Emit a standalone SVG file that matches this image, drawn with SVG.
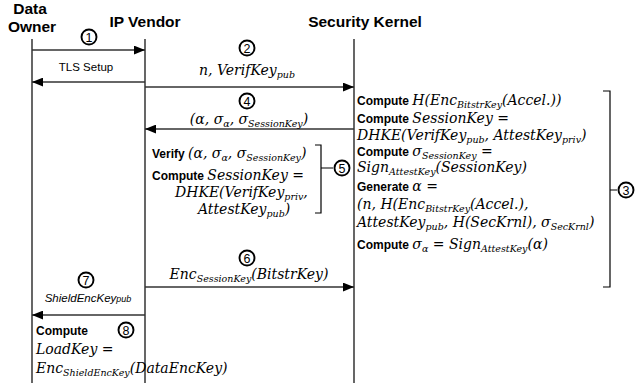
<svg xmlns="http://www.w3.org/2000/svg" width="639" height="383" viewBox="0 0 639 383">
<style>
.hdr{font-family:"Liberation Sans",Arial,sans-serif;font-weight:bold;font-size:15.5px;fill:#000}
.b{font-family:"Liberation Sans",Arial,sans-serif;font-weight:bold;font-size:12px;fill:#000}
.s{font-family:"Liberation Sans",Arial,sans-serif;font-size:11.5px;fill:#000}
.m{font-family:"DejaVu Serif","Liberation Serif",serif;font-style:italic;font-size:14px;fill:#000}
.sub{font-size:9.5px}
.life{stroke:#000;stroke-width:1.2;fill:none}
.msg{stroke:#333;stroke-width:1.4;fill:none}
.brk{stroke:#000;stroke-width:1.2;fill:none}
.num circle{fill:#fff;stroke:#000;stroke-width:1.9}
.num text{font-family:"Liberation Sans",Arial,sans-serif;font-size:12.5px;text-anchor:middle;fill:#000}
</style>
<defs>
<marker id="ah" viewBox="0 0 10 8" refX="10" refY="4" markerWidth="11" markerHeight="9" markerUnits="userSpaceOnUse" orient="auto">
<path d="M0,0 L10,4 L0,8 Z" fill="#000"/>
</marker>
</defs>

<g id="data-owner">
<text class="hdr" x="30" y="14" text-anchor="middle">Data</text>
<text class="hdr" x="32" y="32" text-anchor="middle">Owner</text>
<line class="life" x1="32" y1="39" x2="32" y2="383"/>
</g>
<g id="ip-vendor">
<text class="hdr" x="145" y="27" text-anchor="middle">IP Vendor</text>
<line class="life" x1="145" y1="39" x2="145" y2="383"/>
</g>
<g id="security-kernel">
<text class="hdr" x="365" y="27" text-anchor="middle">Security Kernel</text>
<line class="life" x1="354" y1="39" x2="354" y2="383"/>
</g>

<g id="connectors">
<line class="msg" x1="32" y1="50" x2="145" y2="50" marker-end="url(#ah)"/>
<line class="msg" x1="145" y1="82" x2="32" y2="82" marker-end="url(#ah)"/>
<line class="msg" x1="145" y1="87" x2="354" y2="87" marker-end="url(#ah)"/>
<line class="msg" x1="354" y1="129" x2="145" y2="129" marker-end="url(#ah)"/>
<line class="msg" x1="145" y1="287" x2="354" y2="287" marker-end="url(#ah)"/>
<line class="msg" x1="145" y1="315" x2="32" y2="315" marker-end="url(#ah)"/>
</g>

<g id="msg1">
<g class="num"><circle cx="89" cy="37" r="7.5"/><text x="89" y="41.5">1</text></g>
<text class="s" x="86" y="71" text-anchor="middle">TLS Setup</text>
</g>

<g id="msg2">
<g class="num"><circle cx="247" cy="48" r="7.5"/><text x="247" y="52.5">2</text></g>
<text class="m" x="247" y="75" text-anchor="middle">n, VerifKey<tspan class="sub" dy="3">pub</tspan></text>
</g>

<g id="msg4">
<g class="num"><circle cx="247" cy="101" r="7.5"/><text x="247" y="105.5">4</text></g>
<text class="m" x="249" y="123.5" text-anchor="middle">(α, σ<tspan class="sub" dy="3">α</tspan><tspan dy="-3">, σ</tspan><tspan class="sub" dy="3">SessionKey</tspan><tspan dy="-3">)</tspan></text>
</g>

<g id="kernel-steps">
<text x="357" y="105"><tspan class="b">Compute </tspan><tspan class="m">H(Enc</tspan><tspan class="m sub" dy="3">BitstrKey</tspan><tspan class="m" dy="-3">(Accel.))</tspan></text>
<text x="357" y="123"><tspan class="b">Compute </tspan><tspan class="m">SessionKey =</tspan></text>
<text class="m" x="357" y="140">DHKE(VerifKey<tspan class="sub" dy="3">pub</tspan><tspan dy="-3">, AttestKey</tspan><tspan class="sub" dy="3">priv</tspan><tspan dy="-3">)</tspan></text>
<text x="357" y="156"><tspan class="b">Compute </tspan><tspan class="m">σ</tspan><tspan class="m sub" dy="2.5">SessionKey</tspan><tspan class="m" dy="-2.5"> =</tspan></text>
<text class="m" x="357" y="172">Sign<tspan class="sub" dy="3">AttestKey</tspan><tspan dy="-3">(SessionKey)</tspan></text>
<text x="357" y="191"><tspan class="b">Generate </tspan><tspan class="m">α =</tspan></text>
<text class="m" x="357" y="209">(n, H(Enc<tspan class="sub" dy="3">BitstrKey</tspan><tspan dy="-3">(Accel.),</tspan></text>
<text class="m" x="357" y="227">AttestKey<tspan class="sub" dy="3">pub</tspan><tspan dy="-3">, H(SecKrnl), σ</tspan><tspan class="sub" dy="3">SecKrnl</tspan><tspan dy="-3">)</tspan></text>
<text x="357" y="249"><tspan class="b">Compute </tspan><tspan class="m">σ</tspan><tspan class="m sub" dy="3">α</tspan><tspan class="m" dy="-3"> = Sign</tspan><tspan class="m sub" dy="3">AttestKey</tspan><tspan class="m" dy="-3">(α)</tspan></text>
<path class="brk" d="M603,91 H610 V287 H603 M610,190 H617"/>
<g class="num"><circle cx="626" cy="190" r="7.5"/><text x="626" y="194.5">3</text></g>
</g>

<g id="vendor-steps">
<text x="152" y="158"><tspan class="b">Verify </tspan><tspan class="m">(α, σ</tspan><tspan class="m sub" dy="3">α</tspan><tspan class="m" dy="-3">, σ</tspan><tspan class="m sub" dy="3">SessionKey</tspan><tspan class="m" dy="-3">)</tspan></text>
<text x="152" y="180"><tspan class="b">Compute </tspan><tspan class="m">SessionKey =</tspan></text>
<text class="m" x="175" y="197">DHKE(VerifKey<tspan class="sub" dy="3">priv</tspan><tspan dy="-3">,</tspan></text>
<text class="m" x="198" y="214">AttestKey<tspan class="sub" dy="3">pub</tspan><tspan dy="-3">)</tspan></text>
<path class="brk" d="M315,145 H321 V213 H315 M321,168 H333"/>
<g class="num"><circle cx="342" cy="168" r="7.5"/><text x="342" y="172.5">5</text></g>
</g>

<g id="msg6">
<g class="num"><circle cx="247" cy="258" r="7.5"/><text x="247" y="262.5">6</text></g>
<text class="m" x="249" y="279" text-anchor="middle">Enc<tspan class="sub" dy="3">SessionKey</tspan><tspan dy="-3">(BitstrKey)</tspan></text>
</g>

<g id="msg7">
<g class="num"><circle cx="86" cy="280" r="7.5"/><text x="86" y="284.5">7</text></g>
<text class="s" x="88" y="302" text-anchor="middle" font-style="italic" font-size="12.5">ShieldEncKey<tspan font-size="9">pub</tspan></text>
</g>

<g id="owner-step">
<text class="b" x="36" y="335">Compute</text>
<g class="num"><circle cx="126" cy="330" r="7.5"/><text x="126" y="334.5">8</text></g>
<text class="m" x="36" y="354">LoadKey =</text>
<text class="m" x="36" y="373">Enc<tspan class="sub" dy="3">ShieldEncKey</tspan><tspan dy="-3">(DataEncKey)</tspan></text>
</g>
</svg>
